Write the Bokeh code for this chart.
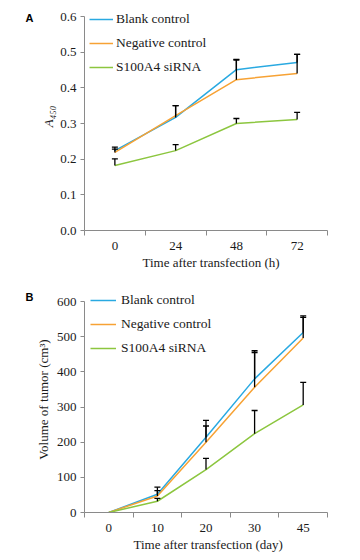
from bokeh.plotting import figure
from bokeh.models import (Range1d, FixedTicker, Legend, LegendItem, Whisker, TeeHead,
                          ColumnDataSource, Title, NumeralTickFormatter)
from bokeh.layouts import column
from bokeh.embed import file_html
from bokeh.resources import INLINE

series_names = ["Blank control", "Negative control", "S100A4 siRNA"]
series_colors = ["#29a9e1", "#f7a234", "#8cc63f"]

# Panel A: A450 vs time after transfection (h)
a_times = ["0", "24", "48", "72"]
a_blank = [0.224, 0.317, 0.451, 0.471]
a_negative = [0.219, 0.322, 0.423, 0.440]
a_sirna = [0.182, 0.224, 0.300, 0.311]
a_blank_err = [0.010, 0.033, 0.029, 0.023]
a_negative_err = [0.009, 0.028, 0.055, 0.054]
a_sirna_err = [0.019, 0.017, 0.014, 0.020]
a_yticks = [0.0, 0.1, 0.2, 0.3, 0.4, 0.5, 0.6]

# Panel B: tumor volume vs time after transfection (day)
b_days = ["0", "10", "20", "30", "45"]
b_blank = [0, 52, 214, 380, 512]
b_negative = [0, 47, 200, 356, 496]
b_sirna = [0, 32, 122, 224, 306]
b_blank_err = [0, 20, 48, 80, 47]
b_negative_err = [0, 15, 46, 99, 59]
b_sirna_err = [0, 8, 32, 66, 64]
b_yticks = [0, 100, 200, 300, 400, 500, 600]

SERIF = "Liberation Serif"
AXIS_GREY = "#8a8a8a"
TEXT = "#1a1a1a"
W = 360
H = 280


def make_panel(letter, cats, series, errs, yticks, ymax, yfmt, ylabel, xlabel,
               borders, axis_px, glyph_w, leg_loc, leg_std, ytitle_style, ytitle_standoff,
               xtitle_offset, letter_standoff):
    top, bottom, right = borders
    frame_h = H - top - bottom
    yend = ymax * frame_h / axis_px   # headroom above the last tick for the legend
    p = figure(width=W, height=H, output_backend="svg", toolbar_location=None,
               x_range=Range1d(-0.5, len(cats) - 0.5), y_range=Range1d(0, yend),
               min_border_left=84, min_border_right=right, min_border_top=top,
               min_border_bottom=bottom)
    p.outline_line_color = None
    p.xgrid.grid_line_color = None
    p.ygrid.grid_line_color = None
    p.background_fill_color = "white"
    p.border_fill_color = "white"

    xs = list(range(len(cats)))
    items = []
    for name, color, vals in zip(series_names, series_colors, series):
        r = p.line(xs, vals, line_color=color, line_width=1.5)
        items.append(LegendItem(label=name, renderers=[r]))
    for vals, err in zip(series, errs):
        sel = [i for i in xs if err[i] > 0]
        src = ColumnDataSource(dict(x=[xs[i] for i in sel],
                                    lo=[vals[i] for i in sel],
                                    hi=[vals[i] + err[i] for i in sel]))
        w = Whisker(base="x", lower="lo", upper="hi", source=src,
                    line_color="black", line_width=1.3, level="overlay",
                    lower_head=None,
                    upper_head=TeeHead(size=6, line_color="black", line_width=1.3))
        p.add_layout(w)

    # x axis: labels centred in cells, ticks at cell boundaries
    xa = p.xaxis[0]
    xa.ticker = FixedTicker(ticks=xs, minor_ticks=[i - 0.5 for i in range(len(cats) + 1)])
    xa.major_label_overrides = {i: c for i, c in enumerate(cats)}
    xa.major_tick_out = 0
    xa.major_tick_in = 0
    xa.minor_tick_out = 5
    xa.minor_tick_in = 0
    xa.minor_tick_line_color = AXIS_GREY
    xa.axis_line_color = AXIS_GREY
    xa.major_label_text_font = SERIF
    xa.major_label_text_font_size = "13px"
    xa.major_label_text_color = TEXT
    xa.major_label_standoff = 6

    ya = p.yaxis[0]
    ya.bounds = (0, ymax)
    ya.ticker = FixedTicker(ticks=yticks, minor_ticks=[])
    ya.formatter = NumeralTickFormatter(format=yfmt)
    ya.major_tick_out = 4
    ya.major_tick_in = 0
    ya.major_tick_line_color = AXIS_GREY
    ya.axis_line_color = AXIS_GREY
    ya.major_label_text_font = SERIF
    ya.major_label_text_font_size = "13px"
    ya.major_label_text_color = TEXT
    ya.major_label_standoff = 4

    leg = Legend(items=items, location=leg_loc, border_line_color=None,
                 background_fill_alpha=0, padding=0, margin=0, spacing=8,
                 label_height=16, glyph_height=16, glyph_width=glyph_w,
                 label_standoff=leg_std,
                 label_text_font=SERIF, label_text_font_size="13.5px",
                 label_text_color=TEXT)
    p.add_layout(leg)

    p.add_layout(Title(text=ylabel, align="center", vertical_align="bottom",
                       standoff=ytitle_standoff, text_font=SERIF,
                       text_font_style=ytitle_style, text_font_size="13px",
                       text_color=TEXT), "left")
    p.add_layout(Title(text=xlabel, align="left", vertical_align="top", offset=xtitle_offset,
                       standoff=5, text_font=SERIF, text_font_style="normal",
                       text_font_size="13px", text_color=TEXT), "below")
    try:
        lt = Title(text=letter, align="left", vertical_align="bottom", offset=-59,
                   standoff=letter_standoff)
    except ValueError:
        lt = Title(text=letter, align="left", vertical_align="bottom", offset=-59, standoff=0)
    lt.text_font = "Liberation Sans"
    lt.text_font_style = "bold"
    lt.text_font_size = "11px"
    lt.text_color = "black"
    p.add_layout(lt, "above")
    return p


pA = make_panel("A", a_times, [a_blank, a_negative, a_sirna],
                [a_blank_err, a_negative_err, a_sirna_err], a_yticks, 0.6, "0.0",
                "A\u2084\u2085\u2080", "Time after transfection (h)",
                (2, 50, 32), 214, 24, (5, 155), 3, "italic", 4, 58, -42)
pB = make_panel("B", b_days, [b_blank, b_negative, b_sirna],
                [b_blank_err, b_negative_err, b_sirna_err], b_yticks, 600, "0",
                "Volume of tumor (cm\u00b3)", "Time after transfection (day)",
                (6, 48, 33), 211, 26, (6, 156), 5, "normal", 5, 49, -33)

layout = column(pA, pB, spacing=0)
open("out.html", "w").write(file_html(layout, INLINE))
